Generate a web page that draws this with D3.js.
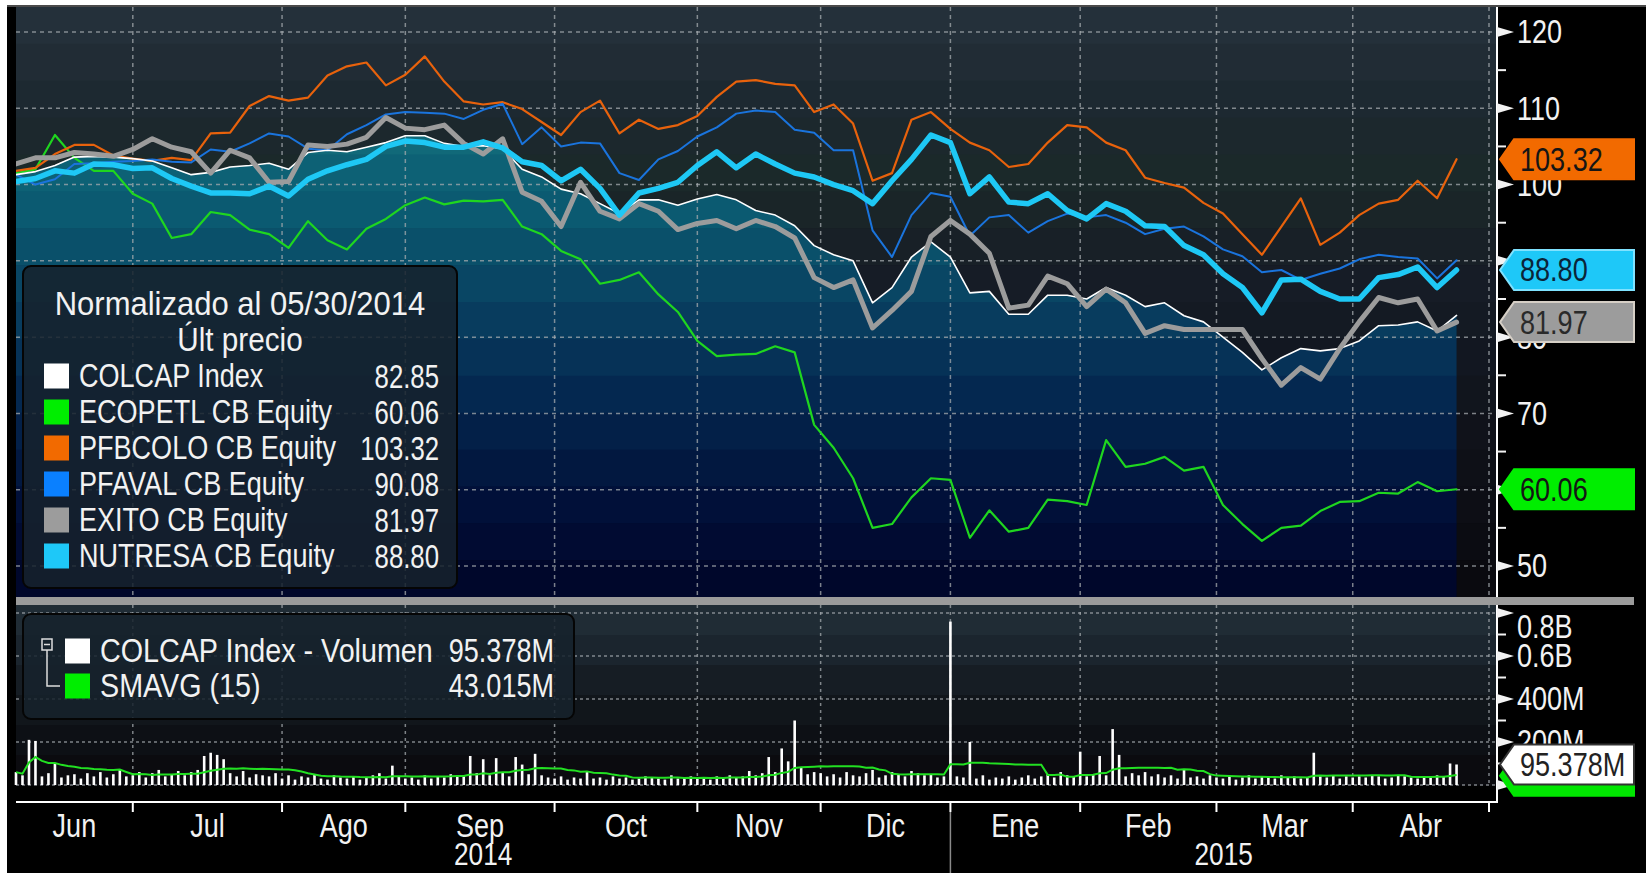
<!DOCTYPE html>
<html>
<head>
<meta charset="utf-8">
<script src="https://cdn.jsdelivr.net/npm/d3@7"></script>
<style>
  body { margin: 0; background: #ffffff; }
  svg { display: block; }
  text { font-family: 'Liberation Sans', Arial, sans-serif; }
</style>
</head>
<body>
<svg id="chart"></svg>
<script>
// ---- data (normalized to 100 on 05/30/2014, one value every 3 trading days) ----
const monthLabels = ['Jun', 'Jul', 'Ago', 'Sep', 'Oct', 'Nov', 'Dic', 'Ene', 'Feb', 'Mar', 'Abr'];
const monthDays = [18, 23, 19, 23, 22, 19, 20, 20, 21, 21, 21];
const yearLabels = ['2014', '2015'];
const yearFirstMonth = [0, 7];
const step = 3;

const colcap = [101.3, 101.7, 102.5, 103.6, 103.7, 103.6, 103.4, 103.1, 102.2, 101.3,
  101.6, 102.3, 102.5, 102.8, 102, 104.2, 104.5, 104.3, 104.9, 105.5,
  106.4, 106.4, 105.4, 105, 105.1, 104.7, 102, 101, 99.4, 98.8,
  97.5, 96.2, 98, 98, 97.3, 98.1, 98.7, 98, 96.6, 96,
  94.6, 92, 90.8, 90, 84.5, 86.5, 90.5, 92.5, 90.5, 85.8,
  86, 83, 83, 85.5, 85.5, 85, 86.5, 85.5, 84, 84.5,
  82.8, 82, 80, 78, 75.7, 77.3, 78.5, 78.2, 78.5, 79.5,
  81.5, 81.6, 82, 80.8, 82.85];
const ecopetl = [101.5, 102, 106.5, 103.5, 101.8, 101.8, 98.8, 97.5, 93, 93.5,
  96.4, 96, 94.1, 93.5, 91.7, 95.2, 92.7, 91.5, 94.2, 95.5,
  97.3, 98.3, 97.4, 97.9, 97.8, 98, 94.5, 93.5, 91.3, 90.2,
  87, 87.5, 88.5, 85.6, 83.3, 79.5, 77.5, 77.7, 77.8, 78.8,
  78, 68.5, 65.5, 61.5, 55, 55.5, 59, 61.5, 61.3, 53.7,
  57.3, 54.5, 55, 58.7, 58.5, 58, 66.5, 63, 63.4, 64.3,
  62.5, 63, 58, 55.5, 53.3, 55, 55.3, 57.2, 58.4, 58.5,
  59.6, 59.5, 61, 59.8, 60.06];
const pfbcolo = [101.8, 102.2, 104, 105.2, 105.2, 103.8, 103.4, 103.1, 103.5, 103.2,
  106.7, 106.8, 110.3, 111.6, 111, 111.4, 114.3, 115.5, 116, 113,
  114.4, 116.8, 113.5, 110.9, 110.5, 110.8, 109.9, 108.2, 106.5, 109.5,
  111, 106.7, 108.5, 107.3, 107.8, 109, 111.5, 113.5, 113.7, 113.2,
  113, 109.5, 110.5, 108, 100.5, 101.5, 108.5, 109.5, 107.3, 105.5,
  104.5, 102.3, 102.7, 105.5, 107.8, 107.5, 105.5, 104.5, 100.9, 100.2,
  99.6, 97.6, 96.2, 93.5, 90.8, 94.5, 98.2, 92.1, 93.7, 96,
  97.5, 98, 100.5, 98.2, 103.32];
const pfaval = [101.3, 100, 100.7, 102.7, 102.8, 103, 103.1, 103.3, 103, 102.9,
  104.6, 104.3, 105.4, 106.7, 106.3, 104.7, 104.5, 106.6, 107.8, 109.2,
  109.5, 109.4, 109.3, 108.6, 109.8, 110.6, 105.3, 107.5, 105, 105.5,
  105.4, 101.5, 100.6, 103.3, 104.4, 106.3, 107.5, 109.3, 109.7, 109.5,
  107.2, 106.8, 104.5, 104.5, 94, 90.5, 96, 98.9, 98.4, 93.3,
  95.7, 96, 93.7, 95.2, 96.2, 95.7, 96, 95, 93.5, 94.2,
  94.5, 93.2, 91.5, 90.6, 88.5, 88.8, 87.5, 88.3, 89, 90.2,
  90.8, 90.5, 90.3, 87.7, 90.08];
const exito = [102.7, 103.5, 103.5, 104.2, 104, 103.7, 104.6, 106, 104.9, 104.3,
  101.5, 104.5, 103.5, 100.3, 100.4, 105.2, 105, 105.3, 106.2, 108.8,
  107.4, 107.2, 107.8, 105.4, 104, 106, 99, 97.8, 94.5, 100.3,
  96.5, 95.5, 97.5, 96.5, 94.1, 94.9, 95.3, 94.2, 95.3, 94.5,
  93, 87.8, 86.5, 87.5, 81.2, 83.5, 86, 93.2, 95.3, 93.5,
  91, 83.8, 84.2, 88, 87, 84, 86.3, 84.5, 80.5, 81.5,
  81, 81, 81, 81, 77.2, 73.7, 76, 74.5, 78.5, 82,
  85.2, 84.5, 85, 80.8, 81.97];
const nutresa = [100.4, 100.8, 101.8, 101.5, 102.7, 102.6, 102.1, 102.2, 100.8, 99.8,
  98.9, 98.9, 98.8, 99.8, 98.5, 100.7, 101.8, 102.6, 103.3, 105,
  105.7, 105.5, 104.9, 104.9, 105.6, 104.8, 103, 102.5, 100.5, 102,
  99.5, 96, 98.9, 99.5, 100.3, 102.5, 104.3, 102.2, 104, 102.7,
  101.5, 101, 100, 99.2, 97.5, 100.5, 103.3, 106.5, 105.5, 98.8,
  101, 97.7, 97.5, 98.8, 96.6, 95.5, 97.5, 96.5, 94.6, 94.5,
  92, 90.8, 88.3, 86.5, 83.2, 87.5, 87.6, 86, 85, 85,
  87.8, 88.2, 89.2, 86.5, 88.8];

// daily COLCAP volume, millions
const volume = [60, 45, 210, 205, 40, 55, 100, 35, 45, 50, 30, 55, 40, 60, 35, 50, 70, 40,
  45, 60, 35, 55, 70, 40, 50, 65, 45, 60, 70, 135, 150, 140, 120, 55, 40, 65, 35, 50, 45, 40, 55,
  30, 45, 25, 40, 35, 50, 30, 25, 45, 35, 30, 40, 25, 35, 45, 55, 30, 90, 40,
  30, 35, 25, 45, 30, 40, 35, 50, 45, 40, 135, 55, 120, 45, 125, 60, 40, 130, 95, 50, 145, 45, 35,
  30, 40, 25, 35, 30, 65, 30, 35, 25, 40, 30, 35, 25, 30, 40, 35, 30, 25, 45, 30, 35, 40,
  30, 35, 25, 40, 30, 45, 35, 40, 65, 45, 55, 130, 60, 170, 110, 300, 80, 50, 60,
  55, 40, 50, 35, 60, 45, 40, 55, 70, 35, 45, 60, 50, 40, 65, 55, 45, 50, 35, 40,
  760, 40, 35, 200, 30, 45, 25, 35, 30, 40, 25, 35, 45, 30, 40, 50, 35, 60, 45, 40,
  155, 40, 50, 135, 45, 260, 140, 40, 55, 45, 60, 40, 50, 35, 45, 30, 70, 35, 40, 30, 45,
  35, 30, 40, 25, 35, 45, 30, 40, 35, 30, 45, 35, 40, 30, 35, 150, 40, 35, 45, 30, 40,
  35, 40, 35, 45, 40, 30, 35, 45, 40, 35, 30, 40, 35, 45, 40, 100, 95.378];
const smaWindow = 15;

const seriesNames = ['COLCAP Index', 'ECOPETL CB Equity', 'PFBCOLO CB Equity', 'PFAVAL CB Equity', 'EXITO CB Equity', 'NUTRESA CB Equity'];
const lastValues = ['82.85', '60.06', '103.32', '90.08', '81.97', '88.80'];
const volNames = ['COLCAP Index - Volumen', 'SMAVG (15)'];
const volLast = ['95.378M', '43.015M'];
const smaLast = 43.015;

const yTicks = [50, 60, 70, 80, 90, 100, 110, 120];
const yTickLabels = [50, 70, 80, 100, 110, 120];
const volTicks = [0, 200, 400, 600, 800];
const volTickLabels = ['', '200M', '400M', '0.6B', '0.8B'];

// ---- layout ----
const W = 1646, H = 873;
const plot = { left: 16, right: 1497, top: 7, bottom: 597 };
const volP = { top: 605, base: 785, bottom: 802 };
const FS = 33, SX = 0.82;
const TXT = '#f2f2f2';

const svg = d3.select('#chart').attr('width', W).attr('height', H);
svg.append('rect').attr('x', 7).attr('y', 5).attr('width', W - 7).attr('height', H - 5).attr('fill', '#000');
svg.append('rect').attr('x', 7).attr('y', 5).attr('width', W - 7).attr('height', 2).attr('fill', '#4a4a4a');

// condensed look: Liberation Sans squeezed horizontally
const place = (px, py, sx = SX) => `translate(${px},${py}) scale(${sx},1)`;
const label = (g, px, py, str, anchor = 'start', fill = TXT, sx = SX) => g.append('text')
  .attr('transform', place(px, py, sx))
  .attr('text-anchor', anchor).attr('dominant-baseline', 'central')
  .attr('font-size', FS).attr('fill', fill).text(str);

const bounds = [0, ...d3.cumsum(monthDays)];
const totalDays = bounds[bounds.length - 1];
const x = d3.scaleLinear().domain([0, totalDays]).range([16, 1489]);
const y = d3.scaleLinear().domain([50, 120]).range([566, 32]);
const vy = d3.scaleLinear().domain([0, 800]).range([volP.base, 613]);

const defs = svg.append('defs');
defs.append('clipPath').attr('id', 'mainClip').append('rect')
  .attr('x', plot.left).attr('y', plot.top).attr('width', plot.right - plot.left).attr('height', plot.bottom - plot.top);
defs.append('clipPath').attr('id', 'areaClip').append('path')
  .attr('d', d3.area().x((d, k) => x(k * step)).y0(plot.bottom).y1(d => y(d))(colcap));

const bands = (g, y0, y1, n, interp) => {
  const h = (y1 - y0) / n;
  g.selectAll(null).data(d3.range(n)).join('rect')
    .attr('x', plot.left).attr('width', plot.right - plot.left)
    .attr('y', i => y0 + i * h).attr('height', h + 0.6)
    .attr('fill', i => interp(i / (n - 1)));
};

// main panel background + colcap fill
bands(svg.append('g'), plot.top, plot.bottom, 16,
  d3.piecewise(d3.interpolateRgb, ['#24303a', '#1d2830', '#1b2929', '#171e27', '#131822', '#10131b', '#0d0e15', '#0a0a0f']));
bands(svg.append('g').attr('clip-path', 'url(#areaClip)'), plot.top, plot.bottom, 16,
  d3.piecewise(d3.interpolateRgb, ['#1d7d8b', '#17737f', '#0f6677', '#0b5a71', '#0a4a66', '#07385c', '#042850', '#021a43', '#010e36', '#00072b']));

// volume panel background
bands(svg.append('g'), volP.top, volP.base, 6,
  d3.piecewise(d3.interpolateRgb, ['#202c35', '#1a232c', '#13191f', '#0e1116', '#0b0b0f']));

// grid
const grid = svg.append('g').attr('stroke', '#a4a9ae').attr('stroke-width', 1.5).attr('stroke-opacity', 0.75);
grid.selectAll(null).data(yTicks).join('line')
  .attr('x1', plot.left).attr('x2', plot.right).attr('y1', d => y(d)).attr('y2', d => y(d))
  .attr('stroke-dasharray', '4,4');
grid.selectAll(null).data(bounds.slice(1)).join('line')
  .attr('x1', d => x(d)).attr('x2', d => x(d)).attr('y1', plot.top).attr('y2', plot.bottom)
  .attr('stroke-dasharray', '4,4');
grid.selectAll(null).data(bounds.slice(1)).join('line')
  .attr('x1', d => x(d)).attr('x2', d => x(d)).attr('y1', volP.top).attr('y2', volP.base)
  .attr('stroke-dasharray', '3,4');
grid.selectAll(null).data(volTicks).join('line')
  .attr('x1', plot.left).attr('x2', plot.right).attr('y1', d => vy(d)).attr('y2', d => vy(d))
  .attr('stroke-dasharray', '3,3');

// lines
const line = d3.line().x((d, k) => x(k * step)).y(d => y(d));
const lineStyles = [
  { data: ecopetl, color: '#1fd61f', w: 2.2 },
  { data: pfbcolo, color: '#e8620c', w: 2.2 },
  { data: pfaval, color: '#1a74dd', w: 2 },
  { data: colcap, color: '#ffffff', w: 1.6 },
  { data: exito, color: '#9c9c9c', w: 5 },
  { data: nutresa, color: '#1ec8f5', w: 5.5 }
];
const lines = svg.append('g').attr('clip-path', 'url(#mainClip)');
lineStyles.forEach(s => {
  lines.append('path').datum(s.data)
    .attr('fill', 'none').attr('stroke', s.color).attr('stroke-width', s.w)
    .attr('stroke-linejoin', 'round').attr('stroke-linecap', 'round')
    .attr('d', line);
});

// volume bars + SMA
svg.append('g').selectAll('rect').data(volume).join('rect')
  .attr('x', (d, i) => x(i) - 1.3).attr('width', 2.6)
  .attr('y', d => vy(d)).attr('height', d => vy(0) - vy(d))
  .attr('fill', '#ffffff');
const sma = volume.map((d, i) => d3.mean(volume.slice(Math.max(0, i - smaWindow + 1), i + 1)));
svg.append('path').datum(sma)
  .attr('fill', 'none').attr('stroke', '#22e022').attr('stroke-width', 2)
  .attr('d', d3.line().x((d, i) => x(i)).y(d => vy(d)));

// separator + frame lines
svg.append('rect').attr('x', plot.left).attr('y', plot.bottom).attr('width', 1634 - plot.left).attr('height', volP.top - plot.bottom).attr('fill', '#9b9b9b');
svg.append('line').attr('x1', plot.right).attr('x2', plot.right).attr('y1', plot.top).attr('y2', plot.bottom).attr('stroke', '#fff').attr('stroke-width', 2);
svg.append('line').attr('x1', plot.right).attr('x2', plot.right).attr('y1', volP.top).attr('y2', volP.bottom).attr('stroke', '#fff').attr('stroke-width', 2);
svg.append('line').attr('x1', plot.left).attr('x2', plot.right + 1).attr('y1', volP.bottom).attr('y2', volP.bottom).attr('stroke', '#fff').attr('stroke-width', 2);

// right y axis (main)
const tri = yy => `M${plot.right},${yy - 5}L${plot.right + 17},${yy}L${plot.right},${yy + 5}Z`;
const axisG = svg.append('g').attr('fill', TXT);
axisG.selectAll(null).data(yTicks).join('path').attr('d', d => tri(y(d)));
axisG.selectAll(null).data(yTicks.slice(0, -1).map(d => d + 5)).join('rect')
  .attr('x', plot.right).attr('y', d => y(d) - 1).attr('width', 9).attr('height', 2);
axisG.selectAll(null).data(yTickLabels).join('text')
  .attr('transform', d => place(plot.right + 20, y(d))).attr('dominant-baseline', 'central')
  .attr('font-size', FS).text(d => d);

// right y axis (volume)
axisG.selectAll(null).data(volTicks).join('path').attr('d', d => tri(vy(d)));
axisG.selectAll(null).data([100, 300, 500, 700]).join('rect')
  .attr('x', plot.right).attr('y', d => vy(d) - 1).attr('width', 9).attr('height', 2);
axisG.selectAll(null).data(volTicks.slice(1)).join('text')
  .attr('transform', d => place(plot.right + 20, Math.max(vy(d), volP.top + 22))).attr('dominant-baseline', 'central')
  .attr('font-size', FS).text((d, i) => volTickLabels[i + 1]);

// last value tags
const tag = (yy, fill, stroke, color, str) => {
  const x0 = 1500, x1 = 1634, h = 40;
  const g = svg.append('g');
  g.append('path')
    .attr('d', `M${x0},${yy}L${x0 + 14},${yy - h / 2}L${x1},${yy - h / 2}L${x1},${yy + h / 2}L${x0 + 14},${yy + h / 2}Z`)
    .attr('fill', fill).attr('stroke', stroke).attr('stroke-width', 2);
  if (str) label(g, x0 + 20, yy, str, 'start', color);
};
tag(y(+lastValues[2]), '#f26a00', '#f26a00', '#151515', lastValues[2]);
tag(y(+lastValues[5]), '#1ec8f8', '#7fe2ff', '#0b2438', lastValues[5]);
tag(y(+lastValues[4]), '#9c9c9c', '#d6cfc6', '#2a2a2a', lastValues[4]);
tag(y(+lastValues[1]), '#00ee00', '#00ee00', '#151515', lastValues[1]);
tag(vy(smaLast), '#00e600', '#00e600', '#151515', null);
tag(vy(volume[volume.length - 1]), '#ffffff', '#333', '#222', volLast[0]);

// x axis
const xAxis = svg.append('g');
xAxis.selectAll(null).data(bounds.slice(1)).join('line')
  .attr('x1', d => x(d)).attr('x2', d => x(d)).attr('y1', volP.bottom).attr('y2', volP.bottom + 10)
  .attr('stroke', '#fff').attr('stroke-width', 2);
xAxis.selectAll(null).data(monthLabels).join('text')
  .attr('transform', (d, i) => place((x(bounds[i]) + x(bounds[i + 1])) / 2, 826))
  .attr('text-anchor', 'middle').attr('dominant-baseline', 'central')
  .attr('font-size', FS).attr('fill', TXT).text(d => d);
const yearEdges = [x(bounds[yearFirstMonth[0]]), x(bounds[yearFirstMonth[1]]), plot.right];
xAxis.append('line').attr('x1', yearEdges[1]).attr('x2', yearEdges[1]).attr('y1', volP.bottom + 10).attr('y2', H)
  .attr('stroke', '#8a8a8a').attr('stroke-width', 1.5);
xAxis.selectAll(null).data(yearLabels).join('text')
  .attr('transform', (d, i) => place((yearEdges[i] + yearEdges[i + 1]) / 2, 854))
  .attr('text-anchor', 'middle').attr('dominant-baseline', 'central')
  .attr('font-size', 32).attr('fill', TXT).text(d => d);

// main legend
const swatch = ['#ffffff', '#00ee00', '#f26a00', '#0a80ff', '#9c9c9c', '#1ec8f8'];
const leg = svg.append('g');
leg.append('rect').attr('x', 23).attr('y', 266).attr('width', 434).attr('height', 322).attr('rx', 8)
  .attr('fill', '#16222c').attr('fill-opacity', 0.86).attr('stroke', '#050505').attr('stroke-width', 2);
label(leg, 240, 304, 'Normalizado al 05/30/2014', 'middle', TXT, 0.94);
label(leg, 240, 340, 'Últ precio', 'middle', TXT, 0.9);
seriesNames.forEach((name, k) => {
  const ry = 376 + k * 36;
  leg.append('rect').attr('x', 44).attr('y', ry - 12.5).attr('width', 25).attr('height', 25).attr('fill', swatch[k]);
  label(leg, 79, ry, name);
  label(leg, 439, ry, lastValues[k], 'end', TXT, 0.78);
});

// volume legend
const vleg = svg.append('g');
vleg.append('rect').attr('x', 23).attr('y', 614).attr('width', 551).attr('height', 105).attr('rx', 8)
  .attr('fill', '#16222c').attr('fill-opacity', 0.86).attr('stroke', '#050505').attr('stroke-width', 2);
vleg.append('rect').attr('x', 42).attr('y', 639).attr('width', 10).attr('height', 11)
  .attr('fill', 'none').attr('stroke', '#ddd').attr('stroke-width', 1.5);
vleg.append('line').attr('x1', 44).attr('x2', 50).attr('y1', 644.5).attr('y2', 644.5).attr('stroke', '#ddd').attr('stroke-width', 1.5);
vleg.append('path').attr('d', 'M47,650V686H60').attr('fill', 'none').attr('stroke', '#ddd').attr('stroke-width', 1.5);
['#ffffff', '#00ee00'].forEach((c, k) => {
  const ry = 651 + k * 35;
  vleg.append('rect').attr('x', 65).attr('y', ry - 12.5).attr('width', 25).attr('height', 25).attr('fill', c);
  label(vleg, 100, ry, volNames[k], 'start', TXT, 0.87);
  label(vleg, 554, ry, volLast[k], 'end');
});
</script>
</body>
</html>
